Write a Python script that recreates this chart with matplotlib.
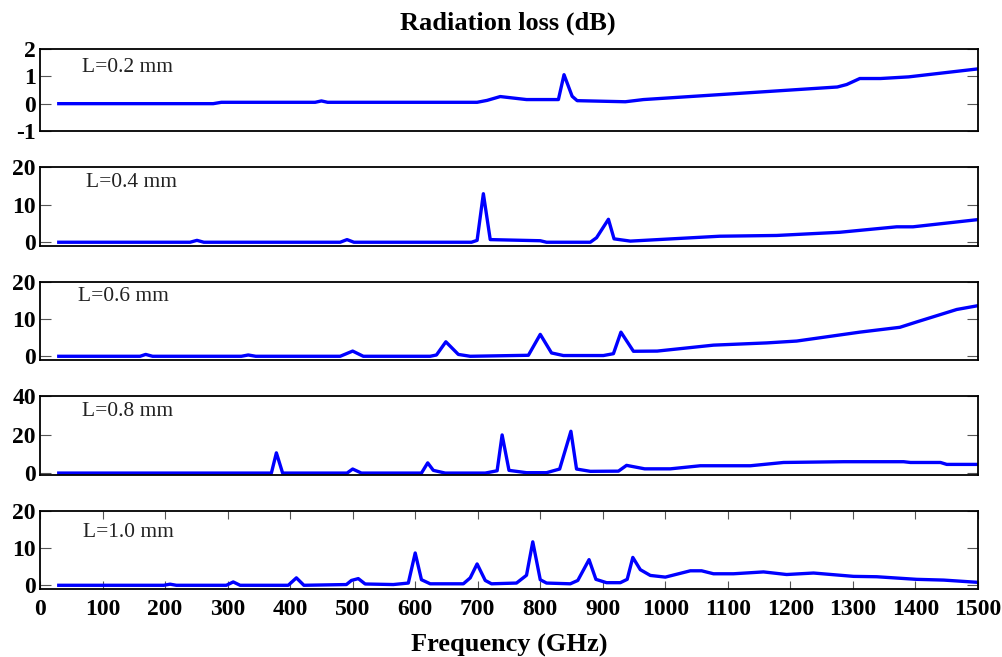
import matplotlib
matplotlib.use("Agg")
import matplotlib.pyplot as plt
import numpy as np

# Frequency (GHz) / radiation loss (dB) for each slab length
f_02 = [30, 277, 290, 440, 450, 460, 699, 715, 736, 778, 829, 838, 851, 859, 936, 965, 1275, 1290, 1311, 1344, 1389, 1499]
r_02 = [0.0, 0.0, 0.05, 0.05, 0.1, 0.05, 0.05, 0.12, 0.26, 0.15, 0.15, 1.06, 0.27, 0.11, 0.07, 0.15, 0.61, 0.7, 0.92, 0.92, 0.98, 1.27]

f_04 = [30, 240, 251, 262, 480, 491, 502, 690, 699, 709, 720, 800, 810, 880, 890, 909, 918, 944, 1087, 1178, 1279, 1370, 1396, 1499]
r_04 = [0.0, 0.0, 0.5, 0.0, 0.0, 0.7, 0.0, 0.0, 0.5, 12.9, 0.7, 0.4, 0.0, 0.0, 1.2, 6.1, 0.9, 0.3, 1.6, 1.8, 2.65, 4.1, 4.1, 6.0]

f_06 = [30, 160, 169, 180, 322, 333, 345, 480, 500, 517, 624, 634, 649, 669, 688, 781, 800, 818, 837, 901, 917, 929, 949, 987, 1077, 1162, 1210, 1311, 1375, 1402, 1466, 1499]
r_06 = [0.0, 0.0, 0.5, 0.0, 0.0, 0.35, 0.0, 0.0, 1.4, 0.0, 0.0, 0.35, 3.9, 0.5, 0.0, 0.27, 5.9, 0.9, 0.2, 0.2, 0.7, 6.5, 1.35, 1.4, 3.0, 3.6, 4.1, 6.5, 7.8, 9.25, 12.6, 13.6]

f_08 = [30, 370, 378, 388, 491, 500, 514, 610, 620, 629, 648, 712, 731, 739, 750, 778, 810, 831, 849, 858, 880, 925, 938, 967, 1008, 1056, 1136, 1189, 1285, 1381, 1392, 1440, 1450, 1499]
r_08 = [0.0, 0.0, 10.5, 0.0, 0.0, 2.1, 0.0, 0.0, 5.3, 1.4, 0.0, 0.0, 1.2, 19.8, 1.4, 0.2, 0.2, 2.1, 21.7, 2.1, 0.9, 1.0, 4.0, 2.2, 2.2, 3.8, 3.8, 5.5, 5.9, 5.9, 5.5, 5.5, 4.5, 4.5]

f_10 = [30, 198, 208, 218, 298, 309, 320, 397, 410, 422, 490, 498, 509, 520, 565, 589, 600, 610, 624, 677, 688, 699, 712, 722, 762, 778, 788, 800, 810, 848, 860, 878, 889, 906, 928, 939, 948, 960, 976, 1000, 1040, 1058, 1077, 1109, 1157, 1194, 1237, 1301, 1338, 1402, 1445, 1499]
r_10 = [0.0, 0.0, 0.3, 0.0, 0.0, 0.9, 0.0, 0.0, 2.0, 0.0, 0.2, 1.3, 1.8, 0.35, 0.2, 0.6, 8.7, 1.5, 0.4, 0.4, 2.0, 5.75, 1.3, 0.4, 0.6, 2.7, 11.7, 1.5, 0.6, 0.4, 1.3, 6.9, 1.6, 0.7, 0.7, 1.6, 7.5, 4.2, 2.65, 2.2, 3.9, 3.9, 3.1, 3.1, 3.6, 2.9, 3.3, 2.4, 2.3, 1.6, 1.4, 0.8]

labels = ["L=0.2 mm", "L=0.4 mm", "L=0.6 mm", "L=0.8 mm", "L=1.0 mm"]
freqs = [f_02, f_04, f_06, f_08, f_10]
losses = [r_02, r_04, r_06, r_08, r_10]
ylims = [(-1, 2), (-1, 20), (-1, 20), (-1, 40), (-1, 20)]
yticks = [[-1, 0, 1, 2], [0, 10, 20], [0, 10, 20], [0, 20, 40], [0, 10, 20]]
xticks = list(range(0, 1501, 100))

W, H = 1003, 657
plt.rcParams["font.family"] = ["Liberation Serif", "DejaVu Serif"]
plt.rcParams["axes.unicode_minus"] = False
fig = plt.figure(figsize=(W / 100, H / 100), dpi=100)

# pixel extents of each panel (top, bottom)
rows = [(49, 131), (167, 246), (282, 360), (396, 475), (511, 589)]
label_pos = [(0.045, 0.77), (0.049, 0.80), (0.041, 0.81), (0.045, 0.81), (0.046, 0.73)]
left_px, right_px = 40, 978

for i, (top, bot) in enumerate(rows):
    ax = fig.add_axes([left_px / W, 1 - bot / H, (right_px - left_px) / W, (bot - top) / H])
    ax.plot(freqs[i], losses[i], color="#0000ff", lw=2.4, solid_joinstyle="round")
    ax.set_xlim(0, 1500)
    ax.set_ylim(*ylims[i])
    ax.set_yticks(yticks[i])
    ax.set_xticks(xticks)
    ax.tick_params(axis="y", direction="in", left=True, right=True, length=8,
                   width=0.8, color="#555555", labelsize=17, pad=3)
    if i < len(rows) - 1:
        ax.tick_params(axis="x", bottom=False, top=False, labelbottom=False)
    else:
        ax.tick_params(axis="x", direction="in", bottom=True, top=True, length=6,
                       width=0.8, color="#555555", labelsize=17, pad=7)
        ax.set_xlabel("Frequency (GHz)", fontsize=19, fontweight="bold", labelpad=10)
    for lab in ax.get_xticklabels() + ax.get_yticklabels():
        lab.set_fontweight("bold")
    for sp in ax.spines.values():
        sp.set_linewidth(1.3)
    ax.text(label_pos[i][0], label_pos[i][1], labels[i], transform=ax.transAxes,
            ha="left", va="center", fontsize=15.5, color="#222222")

fig.text(508 / W, 1 - 23 / H, "Radiation loss (dB)", ha="center", va="center",
         fontsize=19, fontweight="bold")

fig.savefig("out.png", dpi=100)
